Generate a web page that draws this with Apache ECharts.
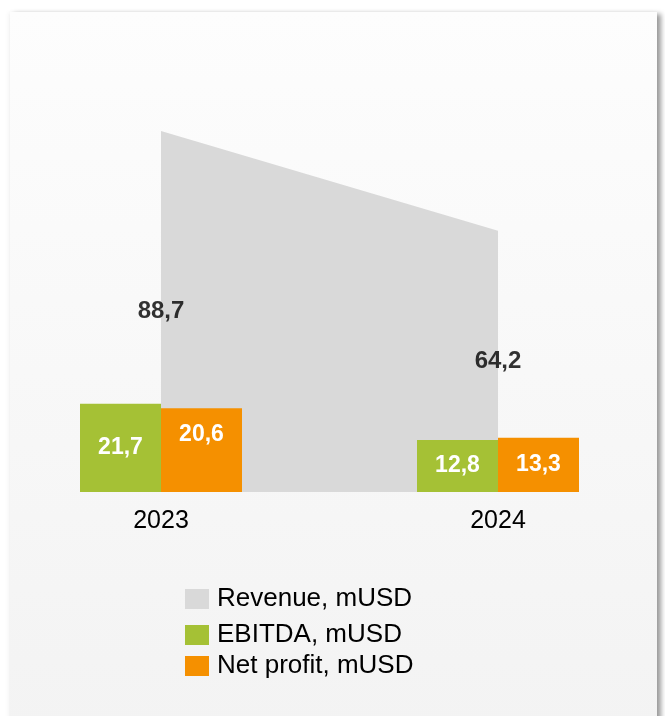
<!DOCTYPE html>
<html>
<head>
<meta charset="utf-8">
<title>Revenue, EBITDA and Net profit</title>
<script src="https://cdn.jsdelivr.net/npm/echarts@6/dist/echarts.min.js"></script>
<style>
  html, body { margin: 0; padding: 0; background: #ffffff; }
  #card {
    position: absolute; left: 10px; top: 12px; width: 647px; height: 720px;
    background: linear-gradient(#fdfdfd, #f3f3f3);
    box-shadow: 4px 2px 5px rgba(0, 0, 0, 0.4), -2px 0 4px rgba(0, 0, 0, 0.04);
  }
  #chart { position: absolute; left: 0; top: 0; width: 665px; height: 716px; }
</style>
</head>
<body>
<div id="card"></div>
<div id="chart"></div>
<script>
// Figures in millions of USD
const years = ['2023', '2024'];
const revenue = [88.7, 64.2];
const ebitda = [21.7, 12.8];
const netProfit = [20.6, 13.3];

const FONT = "'Liberation Sans', Arial, sans-serif";
const GREY = '#d9d9d9';
const GREEN = '#a5c135';
const ORANGE = '#f59000';

const fmt = v => v.toFixed(1).replace('.', ',');

const barLabel = {
  show: true,
  position: 'inside',
  color: '#ffffff',
  fontFamily: FONT,
  fontWeight: 'bold',
  fontSize: 23,
  formatter: p => fmt(p.value)
};

const legendText = { color: '#000000', fontFamily: FONT, fontSize: 26, padding: [0, 0, 0, 3] };

const chart = echarts.init(document.getElementById('chart'), null, { renderer: 'canvas' });

chart.setOption({
  backgroundColor: 'transparent',
  animation: false,
  grid: { left: 161, right: 167, top: 85, bottom: 224 },
  xAxis: {
    type: 'category',
    data: years,
    boundaryGap: false,
    axisLine: { show: false },
    axisTick: { show: false },
    splitLine: { show: false },
    axisLabel: { color: '#000000', fontFamily: FONT, fontSize: 25, margin: 17 }
  },
  yAxis: {
    type: 'value',
    min: 0,
    max: 100,
    show: false
  },
  legend: [
    {
      data: [{ name: 'Revenue, mUSD', icon: 'rect' }],
      left: 180,
      top: 581,
      itemWidth: 24,
      itemHeight: 20,
      textStyle: legendText
    },
    {
      data: [{ name: 'EBITDA, mUSD', icon: 'rect' }, { name: 'Net profit, mUSD', icon: 'rect' }],
      orient: 'vertical',
      left: 180,
      top: 617,
      itemWidth: 24,
      itemHeight: 20,
      itemGap: 5,
      textStyle: legendText
    }
  ],
  series: [
    {
      name: 'Revenue, mUSD',
      type: 'line',
      data: revenue,
      color: GREY,
      symbol: 'none',
      lineStyle: { width: 0 },
      itemStyle: { color: GREY },
      areaStyle: { color: GREY, opacity: 1 },
      z: 1
    },
    {
      // revenue value labels, placed halfway up the revenue area
      type: 'scatter',
      data: revenue.map((v, i) => [i, v / 2, v]),
      symbolSize: 0,
      silent: true,
      label: {
        show: true,
        position: 'inside',
        color: '#000000',
        fontFamily: FONT,
        fontWeight: 'bold',
        fontSize: 24,
        formatter: p => fmt(p.value[2])
      },
      z: 3
    },
    {
      name: 'EBITDA, mUSD',
      type: 'bar',
      data: ebitda,
      barWidth: 81,
      barGap: '0%',
      itemStyle: { color: GREEN },
      label: barLabel,
      z: 2
    },
    {
      name: 'Net profit, mUSD',
      type: 'bar',
      data: netProfit.map((v, i) => i === 0
        ? { value: v, label: { position: 'insideTop', distance: 15 } }
        : v),
      barWidth: 81,
      barGap: '0%',
      itemStyle: { color: ORANGE },
      label: barLabel,
      z: 2
    }
  ]
});
</script>
</body>
</html>
